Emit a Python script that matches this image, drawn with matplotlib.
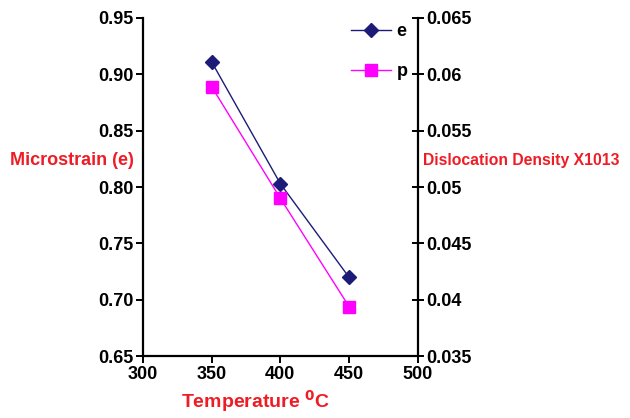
import matplotlib.pyplot as plt

temperature = [350, 400, 450]
microstrain_e = [0.911, 0.803, 0.720]
dislocation_p = [0.0589, 0.0490, 0.0394]

left_ticks = [0.65, 0.70, 0.75, 0.80, 0.85, 0.90, 0.95]
left_labels = ['0.65', '0.70', '0.75', '0.80', '0.85', '0.90', '0.95']
right_ticks = [0.035, 0.04, 0.045, 0.05, 0.055, 0.06, 0.065]
right_labels = ['0.035', '0.04', '0.045', '0.05', '0.055', '0.06', '0.065']
x_ticks = [300, 350, 400, 450, 500]

plt.rcParams['font.family'] = ['Liberation Sans', 'DejaVu Sans']
plt.rcParams['font.weight'] = 'bold'

fig = plt.figure(figsize=(6.3, 4.18), dpi=100)
ax = fig.add_axes([0.227, 0.148, 0.436, 0.809])
ax2 = ax.twinx()

ax.plot(temperature, microstrain_e, color='#1c1c78', marker='D', markersize=7,
        linewidth=1, label='e')
ax2.plot(temperature, dislocation_p, color='#ff00ff', marker='s', markersize=9,
         linewidth=1, label='p')

ax.set_xlim(300, 500)
ax.set_ylim(0.65, 0.95)
ax2.set_ylim(0.035, 0.065)
ax.set_xticks(x_ticks)
ax.set_xticklabels([str(t) for t in x_ticks], fontsize=13, fontweight='bold')
ax.set_yticks(left_ticks)
ax.set_yticklabels(left_labels, fontsize=13, fontweight='bold')
ax2.set_yticks(right_ticks)
ax2.set_yticklabels(right_labels, fontsize=13, fontweight='bold')

for a in (ax, ax2):
    a.spines['top'].set_visible(False)
    for s in a.spines.values():
        s.set_linewidth(1.6)
ax.spines['right'].set_visible(False)
ax2.spines['left'].set_visible(False)
ax2.spines['bottom'].set_visible(False)
ax.tick_params(axis='both', direction='out', length=5, width=1.4, pad=2)
ax2.tick_params(axis='y', direction='inout', length=8, width=1.4, pad=2)

fig.text(0.016, 0.617, 'Microstrain (e)', color='#ee1c25', fontsize=13,
         fontweight='bold', ha='left', va='center')
fig.text(0.672, 0.617, 'Dislocation Density X1013', color='#ee1c25', fontsize=11.3,
         fontweight='bold', ha='left', va='center')
fig.text(0.405, 0.04, r'Temperature $\mathbf{^0}$C', color='#ee1c25', fontsize=14,
         fontweight='bold', ha='center', va='center')

h1, l1 = ax.get_legend_handles_labels()
h2, l2 = ax2.get_legend_handles_labels()
leg = ax.legend(h1 + h2, l1 + l2, loc='upper left', bbox_to_anchor=(0.745, 0.995),
                frameon=False, fontsize=13, handlelength=2.2, labelspacing=1.25,
                handletextpad=0.3, borderpad=0.2, borderaxespad=0.0)

fig.savefig('out.png', dpi=100)
